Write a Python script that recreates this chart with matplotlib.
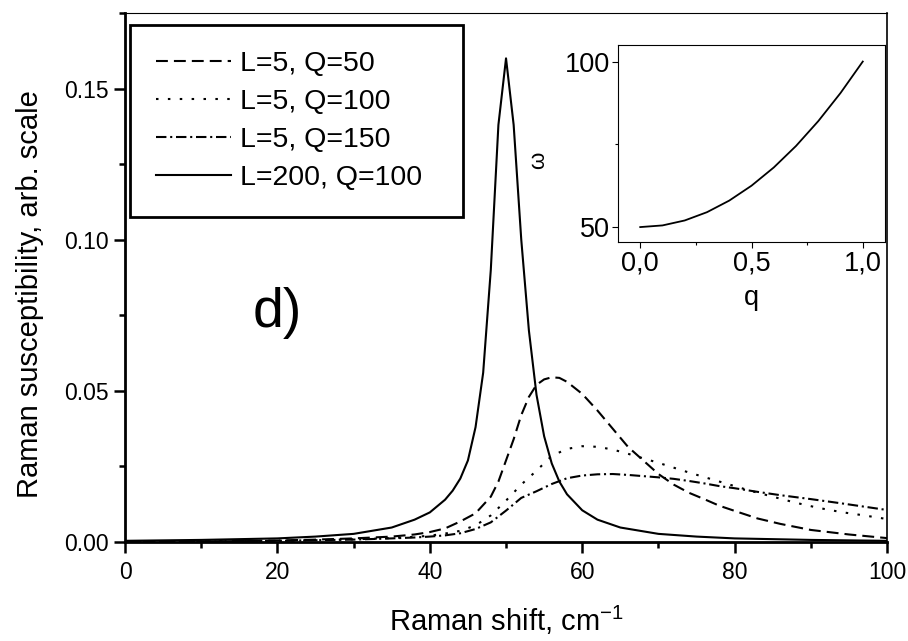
import matplotlib
matplotlib.use("Agg")
import matplotlib.pyplot as plt
from matplotlib.ticker import MultipleLocator, FuncFormatter

plt.rcParams['font.family'] = 'Liberation Sans'
plt.rcParams['mathtext.fontset'] = 'custom'
plt.rcParams['mathtext.rm'] = 'Liberation Sans'
plt.rcParams['mathtext.default'] = 'regular'

# L=200, Q=100 (narrow peak)
x_solid = [0, 10, 20, 25, 30, 35, 38, 40, 42, 43, 44, 45, 46, 47, 48, 49, 50,
           51, 52, 53, 54, 55, 56, 57, 58, 60, 62, 65, 70, 75, 80, 90, 100]
y_solid = [0.0004, 0.0007, 0.0012, 0.0018, 0.0027, 0.0048, 0.0074, 0.0098, 0.0140, 0.0170, 0.0210,
           0.0270, 0.0380, 0.0560, 0.0900, 0.1380, 0.1600,
           0.1380, 0.1000, 0.0700, 0.0487, 0.0350, 0.0260, 0.0200, 0.0158, 0.0105, 0.0074,
           0.0048, 0.0027, 0.0018, 0.0012, 0.0007, 0.0004]

# L=5, Q=50
x_q50 = [0, 10, 20, 25, 30, 35, 38, 40, 42, 44, 46, 48, 49, 50, 51, 52, 53, 54, 55, 56, 57, 58,
         60, 62, 64, 66, 68, 70, 72, 74, 76, 78, 80, 83, 86, 90, 95, 100]
y_q50 = [0.0001, 0.0002, 0.0005, 0.0008, 0.0012, 0.0018, 0.0025, 0.0033, 0.0045, 0.0068, 0.0095,
         0.0150, 0.0200, 0.0270, 0.0340, 0.0420, 0.0480, 0.0520, 0.0538, 0.0545, 0.0543, 0.0530,
         0.0490, 0.0435, 0.0375, 0.0315, 0.0270, 0.0225, 0.0190, 0.0163, 0.0142, 0.0120, 0.0103,
         0.0078, 0.0060, 0.0040, 0.0025, 0.0013]

# L=5, Q=100
x_q100 = [0, 10, 20, 25, 30, 35, 38, 40, 42, 44, 46, 48, 50, 52, 54, 56, 58, 60, 62, 64, 66, 68,
          70, 72, 74, 76, 78, 80, 82, 85, 88, 91, 94, 97, 100]
y_q100 = [0.0001, 0.0002, 0.0004, 0.0006, 0.0009, 0.0013, 0.0017, 0.0021, 0.0028, 0.0037, 0.0055,
          0.0088, 0.0137, 0.0190, 0.0236, 0.0285, 0.0308, 0.0317, 0.0315, 0.0306, 0.0292, 0.0277,
          0.0262, 0.0246, 0.0230, 0.0215, 0.0200, 0.0185, 0.0170, 0.0150, 0.0130, 0.0113, 0.0099,
          0.0088, 0.0076]

# L=5, Q=150
x_q150 = [0, 10, 20, 25, 30, 35, 38, 40, 42, 44, 46, 48, 50, 52, 54, 56, 58, 60, 62, 64, 66, 68,
          70, 72, 74, 76, 78, 80, 83, 86, 90, 94, 97, 100]
y_q150 = [0.0001, 0.0002, 0.0004, 0.0006, 0.0008, 0.0012, 0.0015, 0.0018, 0.0022, 0.0029, 0.0043,
          0.0065, 0.0104, 0.0146, 0.0168, 0.0192, 0.0211, 0.0220, 0.0224, 0.0225, 0.0222, 0.0218,
          0.0214, 0.0209, 0.0202, 0.0194, 0.0185, 0.0178, 0.0166, 0.0155, 0.0142, 0.0128, 0.0117,
          0.0106]

# inset: dispersion omega(q)
q_vals = [0.0, 0.1, 0.2, 0.3, 0.4, 0.5, 0.6, 0.7, 0.8, 0.9, 1.0]
omega_vals = [50, 50.5, 52, 54.5, 58, 62.5, 68, 74.5, 82, 90.5, 100]

labels = ['L=5, Q=50', 'L=5, Q=100', 'L=5, Q=150', 'L=200, Q=100']

fig = plt.figure(figsize=(9.08, 6.41), dpi=100)
ax = fig.add_axes([0.1377, 0.1544, 0.8392, 0.8253])

lw = 1.5
ax.plot(x_q50, y_q50, color='black', lw=lw, linestyle=(0, (5.7, 2.9)), label=labels[0])
ax.plot(x_q100, y_q100, color='black', lw=lw, linestyle=(0, (1.2, 4.5)), label=labels[1])
ax.plot(x_q150, y_q150, color='black', lw=lw, linestyle=(0, (5, 1.8, 1, 1.8)), label=labels[2])
ax.plot(x_solid, y_solid, color='black', lw=lw, linestyle='-', label=labels[3])

ax.set_xlim(0, 100)
ax.set_ylim(0, 0.175)
ax.xaxis.set_major_locator(MultipleLocator(20))
ax.xaxis.set_minor_locator(MultipleLocator(10))
ax.yaxis.set_major_locator(MultipleLocator(0.05))
ax.yaxis.set_minor_locator(MultipleLocator(0.025))
ax.yaxis.set_major_formatter(FuncFormatter(lambda v, p: f'{v:.2f}'))

ax.tick_params(which='both', direction='out', top=False, right=False, labelsize=16.5, width=1.8)
ax.tick_params(which='major', length=8, pad=4)
ax.tick_params(axis='x', which='major', pad=6)
ax.tick_params(which='minor', length=4.5)

ax.spines['left'].set_linewidth(2.0)
ax.spines['bottom'].set_linewidth(2.0)
ax.spines['top'].set_linewidth(0.8)
ax.spines['right'].set_linewidth(1.2)

ax.set_xlabel('Raman shift, cm$^{-1}$', fontsize=21, labelpad=14)
ax.set_ylabel('Raman susceptibility, arb. scale', fontsize=21)
ax.yaxis.set_label_coords(-0.106, 0.469)

ax.text(16.8, 0.071, 'd)', fontsize=40, ha='left', va='baseline')

leg = ax.legend(loc='upper left', bbox_to_anchor=(0.0066, 0.618, 0.437, 0.359), mode='expand',
                borderaxespad=0, fontsize=20.5, handlelength=2.63, handletextpad=0.3,
                labelspacing=0.42, borderpad=0.92, fancybox=False, framealpha=1,
                edgecolor='black')
leg.get_frame().set_linewidth(2.0)

# inset
ax_in = fig.add_axes([0.6806, 0.6225, 0.2941, 0.3073])
ax_in.plot(q_vals, omega_vals, color='black', lw=1.3)
ax_in.set_xlim(-0.1, 1.1)
ax_in.set_ylim(45.5, 105)
ax_in.xaxis.set_major_locator(MultipleLocator(0.5))
ax_in.xaxis.set_minor_locator(MultipleLocator(0.25))
ax_in.yaxis.set_major_locator(MultipleLocator(50))
ax_in.yaxis.set_minor_locator(MultipleLocator(25))
ax_in.xaxis.set_major_formatter(FuncFormatter(lambda v, p: f'{v:.1f}'.replace('.', ',')))
ax_in.yaxis.set_major_formatter(FuncFormatter(lambda v, p: f'{v:.0f}'))
ax_in.tick_params(which='both', direction='out', top=False, right=False, labelsize=19.5, width=0.8)
ax_in.tick_params(which='major', length=4, pad=2)
ax_in.tick_params(which='minor', length=2)
for s in ax_in.spines.values():
    s.set_linewidth(0.8)
ax_in.set_xlabel('q', fontsize=19.5, labelpad=6)
ax_in.set_ylabel('ω', fontsize=16)
ax_in.yaxis.set_label_coords(-0.259, 0.416)

plt.savefig('out.png', dpi=100)
